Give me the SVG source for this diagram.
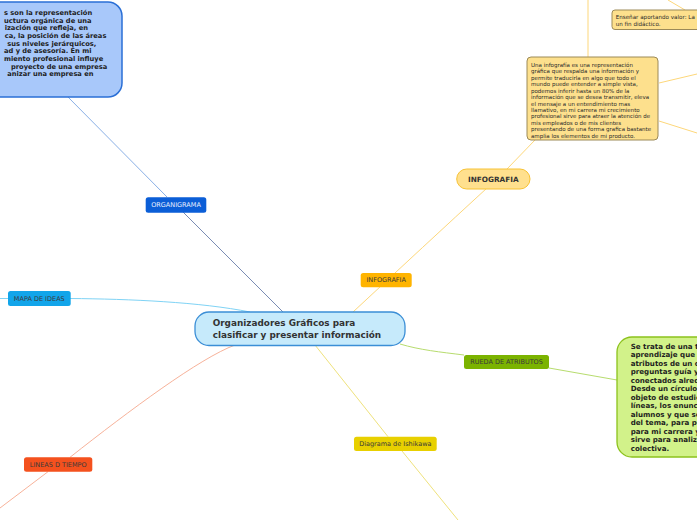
<svg xmlns="http://www.w3.org/2000/svg" width="697" height="520" viewBox="0 0 697 520">
<style>
.c{fill:none;stroke-width:1}
.lbl{font-family:"DejaVu Sans",Verdana,sans-serif;font-size:6.5px;fill:#3a3a3a;text-anchor:middle}
.big{font-family:"DejaVu Sans",Verdana,sans-serif;font-weight:bold}
.sm{font-family:"DejaVu Sans",Verdana,sans-serif;font-size:5.5px;fill:#2a2a2a}
</style>
<rect width="697" height="520" fill="#ffffff"/>
<g id="connectors">
<path class="c" d="M66 95 L167 197" stroke="#8ab0e6"/>
<path class="c" d="M183 212 L283 312" stroke="#7a8cb3" stroke-width="0.9"/>
<path class="c" d="M250 312 C200 302 130 299 70 298.5" stroke="#7fd3f5"/>
<path class="c" d="M8 298.5 L0 298.5" stroke="#7fd3f5"/>
<path class="c" d="M353 312 Q425 245 487 188" stroke="#fdd77a"/>
<path class="c" d="M507 169 L535 140" stroke="#fdd77a"/>
<path class="c" d="M588 57 L588 0" stroke="#fdd77a"/>
<path class="c" d="M668 0 L685 10" stroke="#fdd77a"/>
<path class="c" d="M659 83 L697 74" stroke="#fdd77a"/>
<path class="c" d="M659 121 L697 133" stroke="#fdd77a"/>
<path class="c" d="M400 344 C420 350 440 352 464 355" stroke="#b7dc6e"/>
<path class="c" d="M549 368 L617 380" stroke="#b7dc6e"/>
<path class="c" d="M315 345 L388 436.7" stroke="#efe27c"/>
<path class="c" d="M402 451 L458 520" stroke="#efe27c"/>
<path class="c" d="M235 345 C200 358 130 410 70 457.3" stroke="#f7b29a"/>
<path class="c" d="M48 471.7 L0 508" stroke="#f7b29a"/>
</g>
<g id="organigrama-text">
<rect x="-60" y="2" width="182" height="95" rx="14" fill="#a8c8fa" stroke="#2a6fd6" stroke-width="1.5"/>
<g class="big" font-size="6.7" fill="#1e1e1e">
<text x="4" y="15">s son la representación</text>
<text x="4" y="22.7">uctura orgánica de una</text>
<text x="4.7" y="30.3">ización que refleja, en</text>
<text x="4.7" y="38">ca, la posición de las áreas</text>
<text x="7.3" y="45.6">sus niveles jerárquicos,</text>
<text x="4" y="53.3">ad y de asesoría. En mi</text>
<text x="4" y="61">miento profesional influye</text>
<text x="11" y="68.6">proyecto de una empresa</text>
<text x="7.3" y="76.3">anizar una empresa en</text>
</g>
</g>
<g id="center">
<rect x="195" y="312" width="210" height="33.5" rx="14" fill="#c6eafb" stroke="#3b8ed6" stroke-width="1.3"/>
<text class="big" font-size="8.9" fill="#333" x="212.7" y="325.5">Organizadores Gráficos para</text>
<text class="big" font-size="8.9" fill="#333" x="212.7" y="337.5">clasificar y presentar información</text>
</g>
<g id="organigrama">
<rect x="145.7" y="197.3" width="60.6" height="15.4" rx="2.5" fill="#0b5ed7"/>
<text class="lbl" x="176" y="207.3" style="fill:#e8f0ff">ORGANIGRAMA</text>
</g>
<g id="mapa-ideas">
<rect x="8" y="291" width="62.7" height="15" rx="2.5" fill="#12a5ea"/>
<text class="lbl" x="39.3" y="300.8">MAPA DE IDEAS</text>
</g>
<g id="infografia-small">
<rect x="360.7" y="273" width="51" height="14.3" rx="2.5" fill="#ffb400"/>
<text class="lbl" x="386.2" y="282.4">INFOGRAFIA</text>
</g>
<g id="infografia-big">
<rect x="456.7" y="169" width="73.3" height="20" rx="10" fill="#ffe08e" stroke="#f7c234" stroke-width="1"/>
<text class="big" font-size="7.3" fill="#333" x="493.3" y="181.6" text-anchor="middle">INFOGRAFIA</text>
</g>
<g id="infografia-desc">
<rect x="527" y="57" width="131" height="83" rx="4" fill="#fde08d" stroke="#9c8a58" stroke-width="1"/>
<text class="sm" x="531" y="66.9">Una infografía es una representación</text>
<text class="sm" x="531" y="73.3">gráfica que respalda una información y</text>
<text class="sm" x="531" y="79.8">permite traducirla en algo que todo el</text>
<text class="sm" x="531" y="86.2">mundo puede entender a simple vista,</text>
<text class="sm" x="531" y="92.6">podemos inferir hasta un 80% de la</text>
<text class="sm" x="531" y="99.1">información que se desea transmitir, eleva</text>
<text class="sm" x="531" y="105.5">el mensaje a un entendimiento mas</text>
<text class="sm" x="531" y="111.9">llamativo, en mi carrera mi crecimiento</text>
<text class="sm" x="531" y="118.3">profesional sirve para atraer la atención de</text>
<text class="sm" x="531" y="124.8">mis empleados o de mis clientes</text>
<text class="sm" x="531" y="131.2">presentando de una forma grafica bastante</text>
<text class="sm" x="531" y="137.6">amplia los elementos de mi producto.</text>
</g>
<g id="ensenar">
<rect x="612" y="10" width="100" height="19.5" rx="3" fill="#fde08d" stroke="#9c8a58" stroke-width="1"/>
<text class="sm" x="615.7" y="18.6" style="font-size:5.6px">Enseñar aportando valor: La</text>
<text class="sm" x="615.7" y="25.9" style="font-size:5.6px">un fin didáctico.</text>
</g>
<g id="rueda">
<rect x="464" y="355" width="85" height="14" rx="2.5" fill="#7bb300"/>
<text class="lbl" x="506.5" y="364.3">RUEDA DE ATRIBUTOS</text>
</g>
<g id="rueda-desc">
<rect x="617" y="337" width="120" height="120" rx="15" fill="#d2f28a" stroke="#8cc21c" stroke-width="1.3"/>
<g class="big" font-size="7.1" fill="#1e1e1e">
<text x="630.7" y="348.5">Se trata de una t</text>
<text x="630.7" y="357">aprendizaje que </text>
<text x="630.7" y="365.5">atributos de un o</text>
<text x="630.7" y="374">preguntas guía y</text>
<text x="630.7" y="382.5">conectados alred</text>
<text x="630.7" y="391">Desde un círculo</text>
<text x="630.7" y="399.5">objeto de estudio</text>
<text x="630.7" y="408">líneas, los enunc</text>
<text x="630.7" y="416.5">alumnos y que se</text>
<text x="630.7" y="425">del tema, para po</text>
<text x="630.7" y="433.5">para mi carrera y</text>
<text x="630.7" y="442">sirve para analiz</text>
<text x="630.7" y="450.5">colectiva.</text>
</g>
</g>
<g id="ishikawa">
<rect x="354" y="436.7" width="82.7" height="14.3" rx="2.5" fill="#e8d000"/>
<text class="lbl" x="395.3" y="446.1">Diagrama de Ishikawa</text>
</g>
<g id="lineas">
<rect x="24" y="457.3" width="68.3" height="14.4" rx="2.5" fill="#f4511e"/>
<text class="lbl" x="58.2" y="466.8">LINEAS D TIEMPO</text>
</g>
</svg>
